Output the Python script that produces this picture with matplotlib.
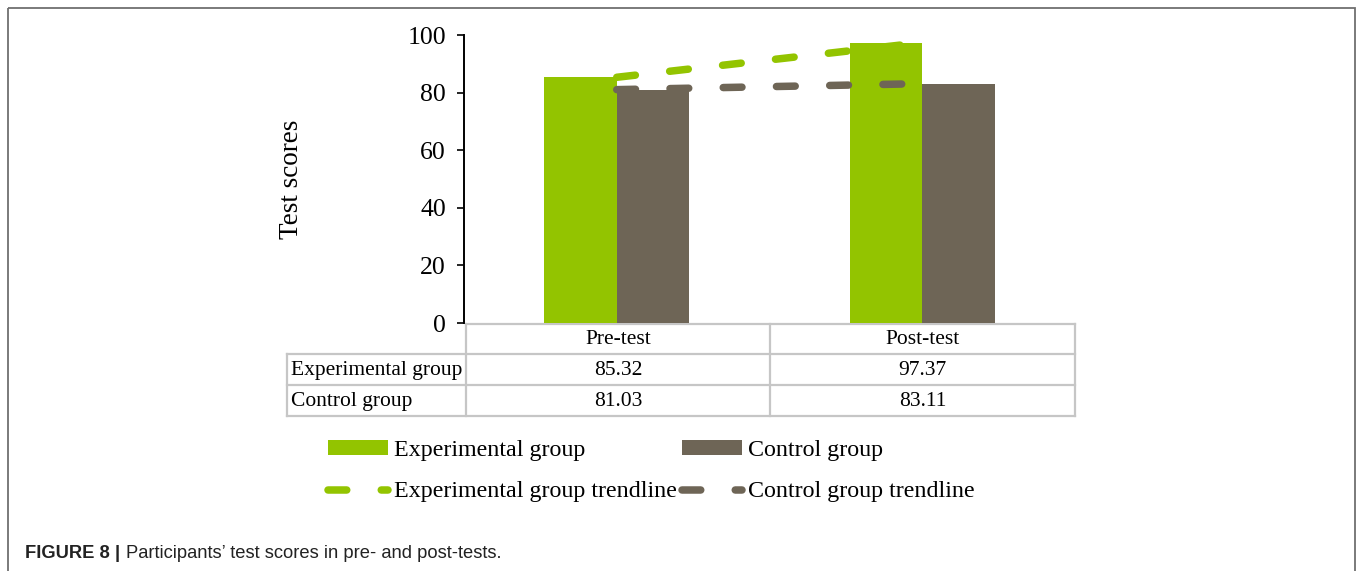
import numpy as np
import matplotlib
matplotlib.use("Agg")
import matplotlib.pyplot as plt
from matplotlib.patches import Rectangle

# ---- data ----
phases = ["Pre-test", "Post-test"]
group_names = ["Experimental group", "Control group"]
experimental_scores = [85.32, 97.37]
control_scores = [81.03, 83.11]
y_ticks = [0, 20, 40, 60, 80, 100]

# ---- styling ----
GREEN = "#93c400"
BROWN = "#6e6556"
GRID = "#c6c6c6"
SERIF = "Liberation Serif"

W, H = 1358, 571
fig = plt.figure(figsize=(W / 100, H / 100), dpi=100)
fig.patch.set_facecolor("white")

# overlay in pixel coordinates for frame, table and caption
oax = fig.add_axes([0, 0, 1, 1], zorder=0)
oax.set_xlim(0, W)
oax.set_ylim(H, 0)
oax.axis("off")

ax = fig.add_axes([464 / W, 1 - 323 / H, (1075 - 464) / W, (323 - 35) / H], zorder=1)
ax.patch.set_alpha(0)

x = np.arange(len(phases))
width = 0.237
b_exp = ax.bar(x - width / 2, experimental_scores, width, color=GREEN,
               label=group_names[0], zorder=2)
b_ctl = ax.bar(x + width / 2, control_scores, width, color=BROWN,
               label=group_names[1], zorder=2)

# linear trendlines through each series
def trend(vals):
    k, b = np.polyfit(x, vals, 1)
    return k * x + b

dash = (2.5, 4.6)
l_ctl, = ax.plot(x, trend(control_scores), color=BROWN, lw=5.4,
                 dashes=dash, dash_capstyle="round", solid_capstyle="round",
                 label="Control group trendline", zorder=3)
l_exp, = ax.plot(x, trend(experimental_scores), color=GREEN, lw=5.4,
                 dashes=dash, dash_capstyle="round", solid_capstyle="round",
                 label="Experimental group trendline", zorder=4)

ax.set_xlim(-0.5, 1.5)
ax.set_ylim(0, 100)
ax.set_yticks(y_ticks)
ax.set_yticklabels([str(t) for t in y_ticks], fontfamily=SERIF, fontsize=18.5)
ax.set_xticks([])
for s in ["top", "right", "bottom"]:
    ax.spines[s].set_visible(False)
ax.spines["left"].set_linewidth(1.4)
ax.tick_params(axis="y", length=5, width=1.2, pad=8, direction="out")
ax.set_ylabel("Test scores", fontfamily=SERIF, fontsize=19.5)
ax.yaxis.set_label_coords(-0.262, 0.5)

# ---- data table under the axis ----
col_edges = [466, 770, 1075]
label_left = 287
row_edges = [324, 354, 385, 416]
lw_t = 1.6
oax.plot([col_edges[0], col_edges[-1]], [row_edges[0]] * 2, color=GRID, lw=lw_t)
for yv in row_edges[1:]:
    oax.plot([label_left, col_edges[-1]], [yv, yv], color=GRID, lw=lw_t)
for xv in col_edges:
    oax.plot([xv, xv], [row_edges[0], row_edges[-1]], color=GRID, lw=lw_t)
oax.plot([label_left, label_left], [row_edges[1], row_edges[-1]], color=GRID, lw=lw_t)

TFS = 15.5
for j, ph in enumerate(phases):
    cx = (col_edges[j] + col_edges[j + 1]) / 2
    oax.text(cx, (row_edges[0] + row_edges[1]) / 2 + 1, ph, ha="center", va="center",
             fontfamily=SERIF, fontsize=TFS)
for i, (name, vals) in enumerate(zip(group_names, [experimental_scores, control_scores])):
    cy = (row_edges[i + 1] + row_edges[i + 2]) / 2 + 1
    oax.text(label_left + 4, cy, name, ha="left", va="center",
             fontfamily=SERIF, fontsize=TFS)
    for j, v in enumerate(vals):
        cx = (col_edges[j] + col_edges[j + 1]) / 2
        oax.text(cx, cy, f"{v:.2f}", ha="center", va="center",
                 fontfamily=SERIF, fontsize=TFS)

# ---- legend ----
fig.legend(handles=[b_exp, l_exp, b_ctl, l_ctl],
           labels=[group_names[0], "Experimental group trendline",
                   group_names[1], "Control group trendline"],
           ncol=2, loc="upper left", bbox_to_anchor=(328 / W, 1 - 440 / H),
           frameon=False, prop={"family": SERIF, "size": 17.3},
           handlelength=2.5, handleheight=0.55, handletextpad=0.25,
           columnspacing=0.2, labelspacing=0.85, borderpad=0, borderaxespad=0)

# ---- frame and caption ----
oax.add_patch(Rectangle((8, 8), W - 11, H + 20, fill=False,
                        edgecolor="#6f6f6f", lw=1.3))
cap_font = ["Liberation Sans Narrow", "Liberation Sans"]
t1 = oax.text(25, 553, "FIGURE 8 |", ha="left", va="center", fontsize=13.2,
              fontweight="bold", family=cap_font, color="#222222")
fig.canvas.draw()
bb = t1.get_window_extent()
oax.text(bb.x1 + 6, 553, "Participants\u2019 test scores in pre- and post-tests.",
         ha="left", va="center", fontsize=13.2, family=cap_font, color="#222222")

fig.savefig("out.png", dpi=100, facecolor="white")
